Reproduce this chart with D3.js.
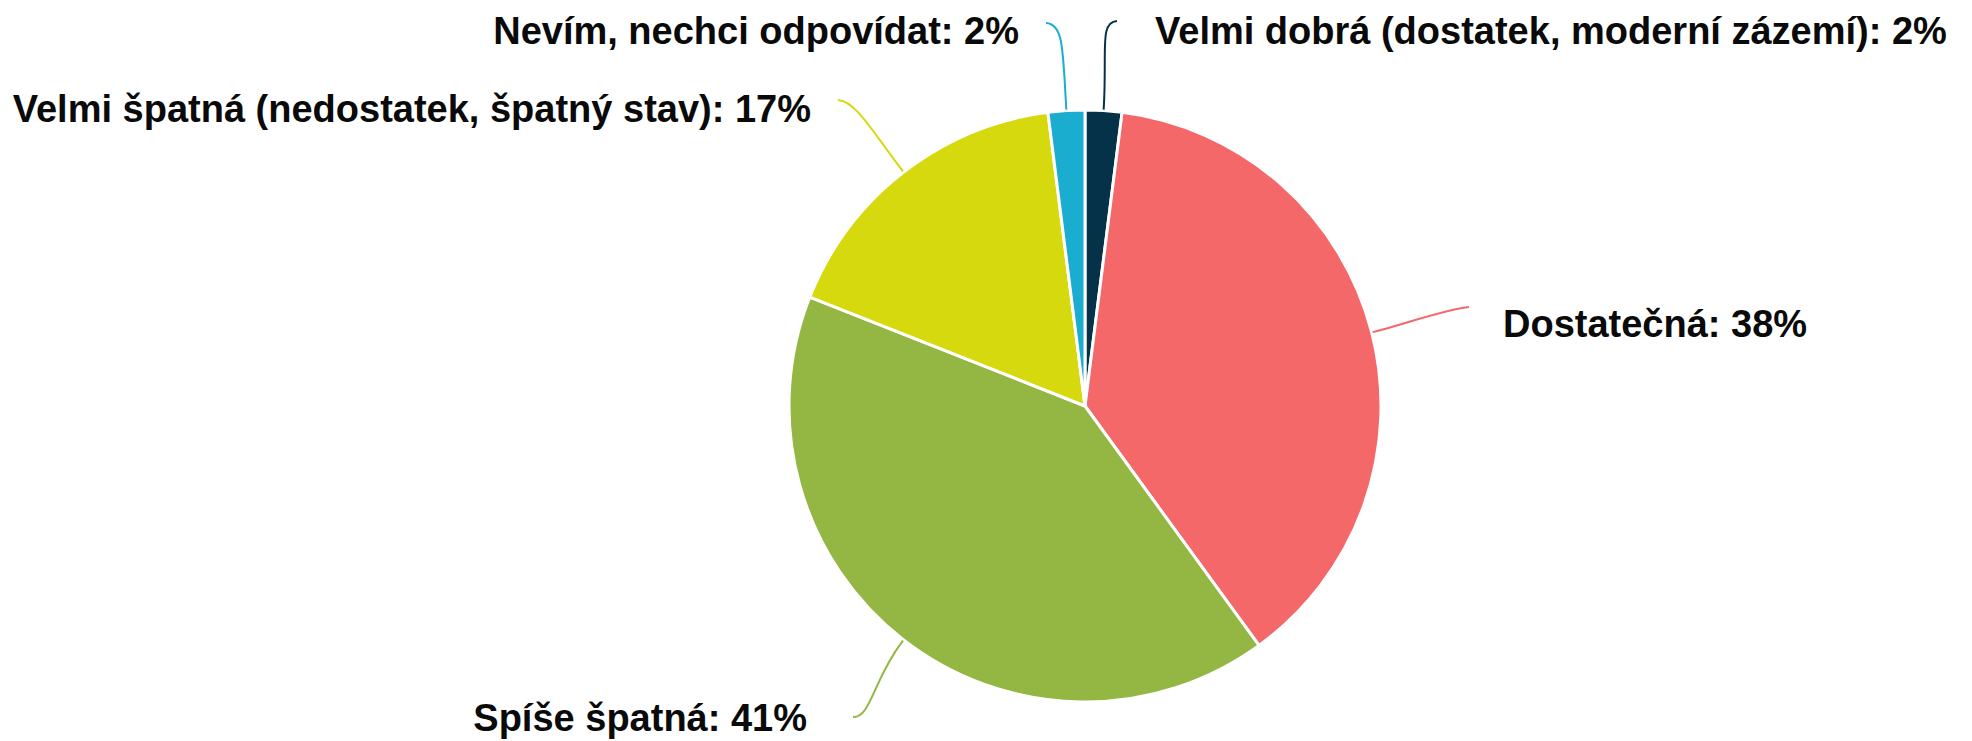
<!DOCTYPE html>
<html>
<head>
<meta charset="utf-8">
<script src="https://cdn.jsdelivr.net/npm/d3@7"></script>
<style>
  html, body { margin: 0; padding: 0; background: #fff; }
  svg { display: block; }
</style>
</head>
<body>
<svg></svg>
<script>

// data, clockwise from 12 o'clock
var categories = ["Velmi dobrá (dostatek, moderní zázemí)", "Dostatečná", "Spíše špatná",
                  "Velmi špatná (nedostatek, špatný stav)", "Nevím, nechci odpovídat"]
var values = [2, 38, 41, 17, 2]
var colors = ["#063249", "#f4686a", "#93b742", "#d7d90f", "#1badd0"]

// label placement (layout only): anchor point, which side, leader end
var labelX = [1155, 1503, 807, 811, 1019]
var labelY = [44, 337, 731, 122, 44]
var labelSide = [1, 1, -1, -1, -1]
var leaderEnd = [[1117, 21], [1469, 307], [853, 717], [838, 100], [1046, 23]]
var leaderExt = [60, 30, 50, 50, 60]

var width = 1972, height = 741;
var cx = 1085, cy = 406, radius = 296;

var svg = d3.select("svg")
    .attr("width", width)
    .attr("height", height);

var pie = d3.pie().sort(null).value(d => d.value);
var arc = d3.arc().innerRadius(0).outerRadius(radius);

var data = categories.map((c, i) => { return {name: c, value: values[i], color: colors[i], idx: i} })
var arcs = pie(data);

var g = svg.append("g")
    .attr("transform", "translate(" + cx + "," + cy + ")");

g.selectAll("path.slice")
    .data(arcs)
    .enter()
    .append("path")
    .attr("class", "slice")
    .attr("d", arc)
    .attr("fill", d => d.data.color)
    .attr("stroke", "#fff")
    .attr("stroke-width", 3)
    .attr("stroke-linejoin", "round");

function radial(a, r) {
    return [cx + r * Math.sin(a), cy - r * Math.cos(a)];
}

// leader lines
svg.selectAll("path.leader")
    .data(arcs)
    .enter()
    .append("path")
    .attr("class", "leader")
    .attr("fill", "none")
    .attr("stroke", d => d.data.color)
    .attr("stroke-width", 2)
    .attr("d", function(d) {
        var i = d.data.idx;
        var mid = (d.startAngle + d.endAngle) / 2;
        var s = radial(mid, radius + 1);
        var c1 = radial(mid, radius + leaderExt[i]);
        var e = leaderEnd[i];
        var c2 = [e[0] - labelSide[i] * 18, e[1] + 1];
        return "M" + s + "C" + c1 + " " + c2 + " " + e;
    });

// labels
svg.selectAll("text.label")
    .data(arcs)
    .enter()
    .append("text")
    .attr("class", "label")
    .attr("x", d => labelX[d.data.idx])
    .attr("y", d => labelY[d.data.idx])
    .attr("text-anchor", d => labelSide[d.data.idx] > 0 ? "start" : "end")
    .attr("font-family", "'Liberation Sans', Arial, sans-serif")
    .attr("font-weight", "bold")
    .attr("font-size", 38)
    .attr("fill", "#0a0a0a")
    .text(d => d.data.name + ": " + d.data.value + "%");

</script>
</body>
</html>
